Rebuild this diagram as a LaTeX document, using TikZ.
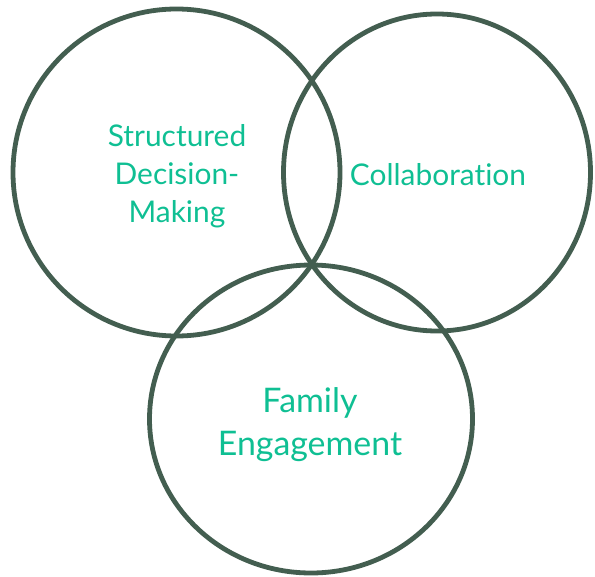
\documentclass[tikz,border=0pt]{standalone}
\usepackage{fontspec}
\setmainfont{Lato}[Ligatures=NoCommon]
\usepackage{xcolor}
\usetikzlibrary{positioning}

\definecolor{ringgreen}{HTML}{435E50}
\definecolor{labelteal}{HTML}{0FBF93}

\tikzset{
    ring/.style={draw=ringgreen, line width=4.8bp},
    ringlabel/.style={text=labelteal, align=center, inner sep=0pt}
}

\begin{document}
\begin{tikzpicture}[x=1bp, y=-1bp]
    \useasboundingbox (0, 0) rectangle (595, 577);
    % centres of the three sets
    \coordinate (decision) at (176.5, 172.5);
    \coordinate (collab) at (437, 172.5);
    \coordinate (family) at (311, 419);
    \draw[ring] (decision) circle [radius=163.5bp];
    \draw[ring] (collab) ellipse [x radius=153.5bp, y radius=158.5bp];
    \draw[ring] (family) ellipse [x radius=161.5bp, y radius=154bp];
    % labels
    \node[ringlabel, font=\fontsize{30}{38}\selectfont] (decisiontext) at (177, 176) {Structured\\Decision-\\Making};
    \node[ringlabel, font=\fontsize{30}{38}\selectfont] (collabtext) at (438, 175) {Collaboration};
    \node[ringlabel, font=\fontsize{34}{43}\selectfont] (familytext) at (310, 425) {Family\\Engagement};
\end{tikzpicture}
\end{document}
